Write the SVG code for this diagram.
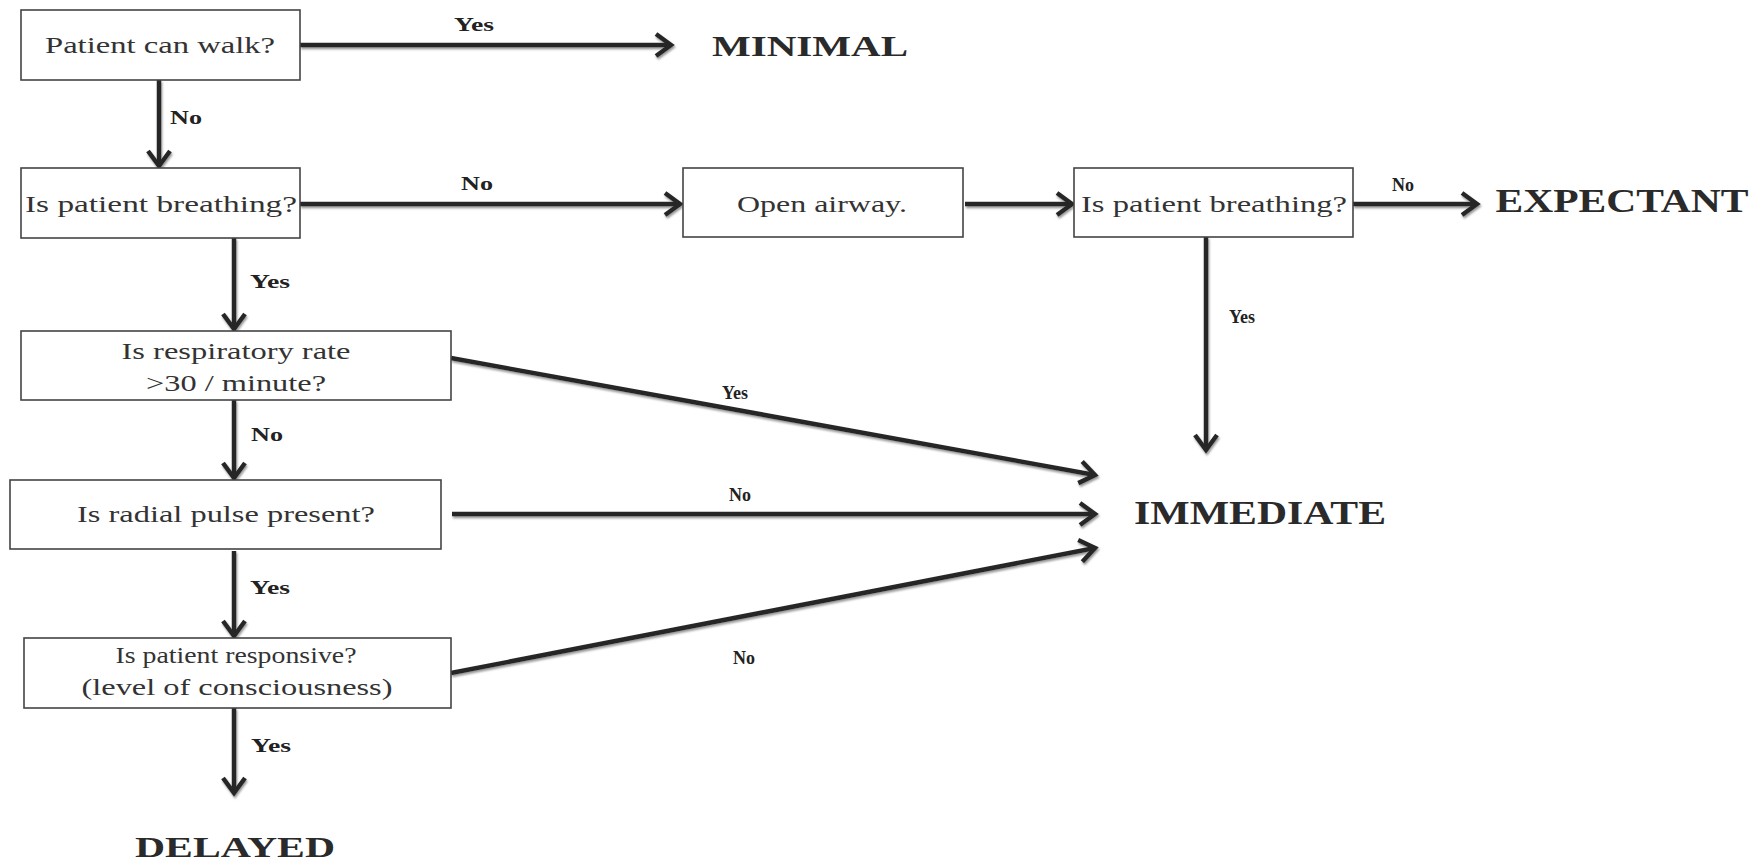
<svg xmlns="http://www.w3.org/2000/svg" width="1764" height="866" viewBox="0 0 1764 866">
<defs>
<style>
.box{fill:#fff;stroke:#444;stroke-width:1.6}
.nt{font-family:"Liberation Serif",serif;font-size:23px;fill:#333;text-anchor:middle}
.lb{font-family:"Liberation Serif",serif;font-size:18px;font-weight:bold;fill:#222;text-anchor:middle}
.out{font-family:"Liberation Serif",serif;font-weight:bold;fill:#2a2a2a;text-anchor:middle}
.c{stroke:#262626;stroke-width:4.5;fill:none;marker-end:url(#ah)}
</style>
<marker id="ah" markerUnits="userSpaceOnUse" viewBox="0 0 22 26" markerWidth="22" markerHeight="26" refX="18" refY="13" orient="auto">
<path d="M3,2 L18,13 L3,24" fill="none" stroke="#262626" stroke-width="4.5"/>
</marker>
<filter id="sh" x="-5%" y="-20%" width="110%" height="140%">
<feDropShadow dx="1" dy="2" stdDeviation="1" flood-color="#8a8a8a" flood-opacity="0.9"/>
</filter>
</defs>

<g id="connectors" filter="url(#sh)">
<line class="c" x1="300" y1="45" x2="671" y2="45"/>
<line class="c" x1="159" y1="80" x2="159" y2="166"/>
<line class="c" x1="300" y1="204" x2="680" y2="204"/>
<line class="c" x1="965" y1="204" x2="1072" y2="204"/>
<line class="c" x1="1353" y1="204" x2="1477" y2="204"/>
<line class="c" x1="1206" y1="237" x2="1206" y2="450"/>
<line class="c" x1="234" y1="238" x2="234" y2="329"/>
<line class="c" x1="451" y1="358" x2="1095" y2="475"/>
<line class="c" x1="234" y1="400" x2="234" y2="478"/>
<line class="c" x1="452" y1="514" x2="1095" y2="514"/>
<line class="c" x1="234" y1="551" x2="234" y2="636"/>
<line class="c" x1="451" y1="673" x2="1095" y2="548"/>
<line class="c" x1="234" y1="708" x2="234" y2="793"/>
</g>

<g id="labels">
<text class="lb" x="474" y="31" textLength="40" lengthAdjust="spacingAndGlyphs">Yes</text>
<text class="lb" x="186" y="124" textLength="32" lengthAdjust="spacingAndGlyphs">No</text>
<text class="lb" x="477" y="190" textLength="32" lengthAdjust="spacingAndGlyphs">No</text>
<text class="lb" x="1403" y="191">No</text>
<text class="lb" x="1242" y="323">Yes</text>
<text class="lb" x="270" y="288" textLength="40" lengthAdjust="spacingAndGlyphs">Yes</text>
<text class="lb" x="735" y="399">Yes</text>
<text class="lb" x="267" y="441" textLength="32" lengthAdjust="spacingAndGlyphs">No</text>
<text class="lb" x="740" y="501">No</text>
<text class="lb" x="270" y="594" textLength="40" lengthAdjust="spacingAndGlyphs">Yes</text>
<text class="lb" x="744" y="664">No</text>
<text class="lb" x="271" y="752" textLength="40" lengthAdjust="spacingAndGlyphs">Yes</text>
</g>

<g id="n-walk">
<rect class="box" x="21" y="10" width="279" height="70"/>
<text class="nt" x="160" y="53" textLength="230" lengthAdjust="spacingAndGlyphs">Patient can walk?</text>
</g>
<g id="n-minimal">
<text class="out" x="810" y="56" font-size="30" textLength="196" lengthAdjust="spacingAndGlyphs">MINIMAL</text>
</g>
<g id="n-breathing">
<rect class="box" x="21" y="168" width="279" height="70"/>
<text class="nt" x="161" y="212" textLength="272" lengthAdjust="spacingAndGlyphs">Is patient breathing?</text>
</g>
<g id="n-airway">
<rect class="box" x="683" y="168" width="280" height="69"/>
<text class="nt" x="822" y="212" textLength="170" lengthAdjust="spacingAndGlyphs">Open airway.</text>
</g>
<g id="n-breathing2">
<rect class="box" x="1074" y="168" width="279" height="69"/>
<text class="nt" x="1214" y="212" textLength="266" lengthAdjust="spacingAndGlyphs">Is patient breathing?</text>
</g>
<g id="n-expectant">
<text class="out" x="1622" y="212" font-size="34" textLength="253" lengthAdjust="spacingAndGlyphs">EXPECTANT</text>
</g>
<g id="n-resp">
<rect class="box" x="21" y="331" width="430" height="69"/>
<text class="nt" x="236" y="359" textLength="229" lengthAdjust="spacingAndGlyphs">Is respiratory rate</text>
<text class="nt" x="236" y="391" textLength="180" lengthAdjust="spacingAndGlyphs">&gt;30 / minute?</text>
</g>
<g id="n-pulse">
<rect class="box" x="10" y="480" width="431" height="69"/>
<text class="nt" x="226" y="522" textLength="298" lengthAdjust="spacingAndGlyphs">Is radial pulse present?</text>
</g>
<g id="n-immediate">
<text class="out" x="1260" y="524" font-size="34" textLength="252" lengthAdjust="spacingAndGlyphs">IMMEDIATE</text>
</g>
<g id="n-responsive">
<rect class="box" x="24" y="638" width="427" height="70"/>
<text class="nt" x="236" y="663" textLength="241" lengthAdjust="spacingAndGlyphs">Is patient responsive?</text>
<text class="nt" x="237" y="695" textLength="311" lengthAdjust="spacingAndGlyphs">(level of consciousness)</text>
</g>
<g id="n-delayed">
<text class="out" x="235" y="857" font-size="30" textLength="200" lengthAdjust="spacingAndGlyphs">DELAYED</text>
</g>
</svg>
